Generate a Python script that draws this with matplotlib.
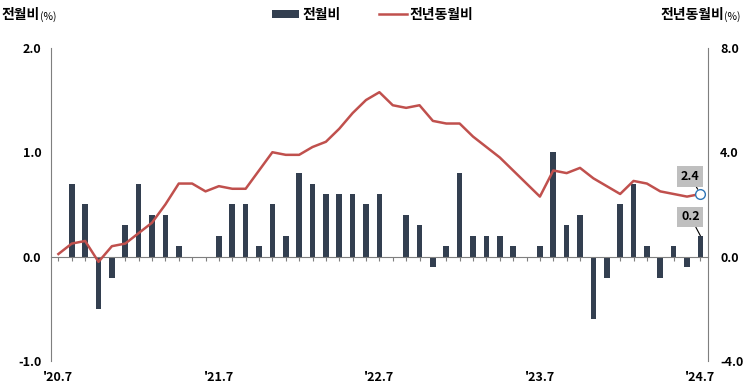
import numpy as np
import matplotlib
matplotlib.use("Agg")
import matplotlib.pyplot as plt

plt.rcParams['font.family'] = ['Noto Sans CJK KR', 'DejaVu Sans']

# '20.7 ~ '24.7 monthly
months = ["'20.7", "'20.8", "'20.9", "'20.10", "'20.11", "'20.12",
          "'21.1", "'21.2", "'21.3", "'21.4", "'21.5", "'21.6",
          "'21.7", "'21.8", "'21.9", "'21.10", "'21.11", "'21.12",
          "'22.1", "'22.2", "'22.3", "'22.4", "'22.5", "'22.6",
          "'22.7", "'22.8", "'22.9", "'22.10", "'22.11", "'22.12",
          "'23.1", "'23.2", "'23.3", "'23.4", "'23.5", "'23.6",
          "'23.7", "'23.8", "'23.9", "'23.10", "'23.11", "'23.12",
          "'24.1", "'24.2", "'24.3", "'24.4", "'24.5", "'24.6",
          "'24.7"]

mom = [0.0, 0.7, 0.5, -0.5, -0.2, 0.3, 0.7, 0.4, 0.4, 0.1, 0.0, 0.0,
       0.2, 0.5, 0.5, 0.1, 0.5, 0.2, 0.8, 0.7, 0.6, 0.6, 0.6, 0.5,
       0.6, 0.0, 0.4, 0.3, -0.1, 0.1, 0.8, 0.2, 0.2, 0.2, 0.1, 0.0,
       0.1, 1.0, 0.3, 0.4, -0.6, -0.2, 0.5, 0.7, 0.1, -0.2, 0.1, -0.1,
       0.2]

yoy = [0.1, 0.5, 0.6, -0.2, 0.4, 0.5, 0.9, 1.3, 2.0, 2.8, 2.8, 2.5,
       2.7, 2.6, 2.6, 3.3, 4.0, 3.9, 3.9, 4.2, 4.4, 4.9, 5.5, 6.0,
       6.3, 5.8, 5.7, 5.8, 5.2, 5.1, 5.1, 4.6, 4.2, 3.8, 3.3, 2.8,
       2.3, 3.3, 3.2, 3.4, 3.0, 2.7, 2.4, 2.9, 2.8, 2.5, 2.4, 2.3,
       2.4]

label_idx = [0, 12, 24, 36, 48]

BAR_C = "#333F50"
LINE_C = "#C0504D"
AX_C = "#7F7F7F"

x = np.arange(len(months))

fig = plt.figure(figsize=(7.45, 3.92), dpi=100)
ax = fig.add_axes([0.0685, 0.079, 0.8815, 0.799])
ax2 = ax.twinx()

ax.bar(x, mom, width=0.42, color=BAR_C, zorder=2, label="전월비")
ax2.plot(x, yoy, color=LINE_C, lw=1.8, zorder=3, label="전년동월비")
ax2.plot(x[-1], yoy[-1], marker="o", ms=7, mfc="white", mec="#2E75B6",
         mew=1.0, zorder=4)

ax.set_xlim(-0.55, len(months) - 0.45)
ax.set_ylim(-1.0, 2.0)
ax2.set_ylim(-4.0, 8.0)
ax.set_yticks([-1.0, 0.0, 1.0, 2.0])
ax2.set_yticks([-4.0, 0.0, 4.0, 8.0])
ax.set_yticklabels([f"{v:.1f}" for v in [-1.0, 0.0, 1.0, 2.0]])
ax2.set_yticklabels([f"{v:.1f}" for v in [-4.0, 0.0, 4.0, 8.0]])

for a in (ax, ax2):
    a.spines["top"].set_visible(False)
    a.spines["left"].set_color(AX_C)
    a.spines["right"].set_color(AX_C)
    a.patch.set_visible(False)
ax2.spines["bottom"].set_visible(False)
ax2.spines["left"].set_visible(False)
ax.spines["right"].set_visible(False)

# zero line with month ticks
ax.spines["bottom"].set_position(("data", 0))
ax.spines["bottom"].set_color(AX_C)
ax.set_xticks(x)
ax.set_xticklabels([])
ax.tick_params(axis="x", length=3, color=AX_C, direction="out")
ax.tick_params(axis="y", length=0, pad=7, labelsize=9)
ax2.tick_params(axis="y", length=0, pad=9, labelsize=9)
for t in ax.get_yticklabels() + ax2.get_yticklabels():
    t.set_fontweight("bold")

sec = ax.secondary_xaxis(-0.0)
sec.set_xticks([x[i] for i in label_idx])
sec.set_xticklabels([months[i] for i in label_idx], fontsize=9,
                    fontweight="bold")
sec.tick_params(length=0, pad=7)
sec.spines["bottom"].set_visible(False)

# axis titles
fig.text(0.002, 0.962, "전월비", fontsize=10, fontweight="bold",
         ha="left", va="center")
fig.text(0.054, 0.958, "(%)", fontsize=7.5, ha="left", va="center")
fig.text(0.972, 0.962, "전년동월비", fontsize=10, fontweight="bold",
         ha="right", va="center")
fig.text(0.972, 0.958, "(%)", fontsize=7.5, ha="left", va="center")

# legend
h1, l1 = ax.get_legend_handles_labels()
h2, l2 = ax2.get_legend_handles_labels()
fig.legend(h1 + h2, l1 + l2, loc="center", bbox_to_anchor=(0.5, 0.962),
           ncol=2, frameon=False, prop={"size": 10, "weight": "bold"},
           handlelength=2.0, handleheight=0.55, columnspacing=2.8,
           handletextpad=0.2)

# data labels
box = dict(boxstyle="square,pad=0.3", fc="#BFBFBF", ec="none")
ax2.annotate(f"{yoy[-1]:.1f}", xy=(x[-1], yoy[-1]), xytext=(x[-1] - 0.75, yoy[-1] + 0.67),
             ha="center", va="center", fontsize=9, fontweight="bold", bbox=box,
             zorder=5,
             arrowprops=dict(arrowstyle="-", color="black", lw=0.8,
                             shrinkA=0, shrinkB=4))
ax2.annotate(f"{mom[-1]:.1f}", xy=(x[-1], mom[-1]), xycoords=ax.transData,
             xytext=(x[-1] - 0.75, mom[-1] + 0.18), textcoords=ax.transData,
             ha="center", va="center", fontsize=9, fontweight="bold", bbox=box,
             zorder=5,
             arrowprops=dict(arrowstyle="-", color="black", lw=0.8,
                             shrinkA=0, shrinkB=0))

fig.savefig("out.png", dpi=100, facecolor="white")
